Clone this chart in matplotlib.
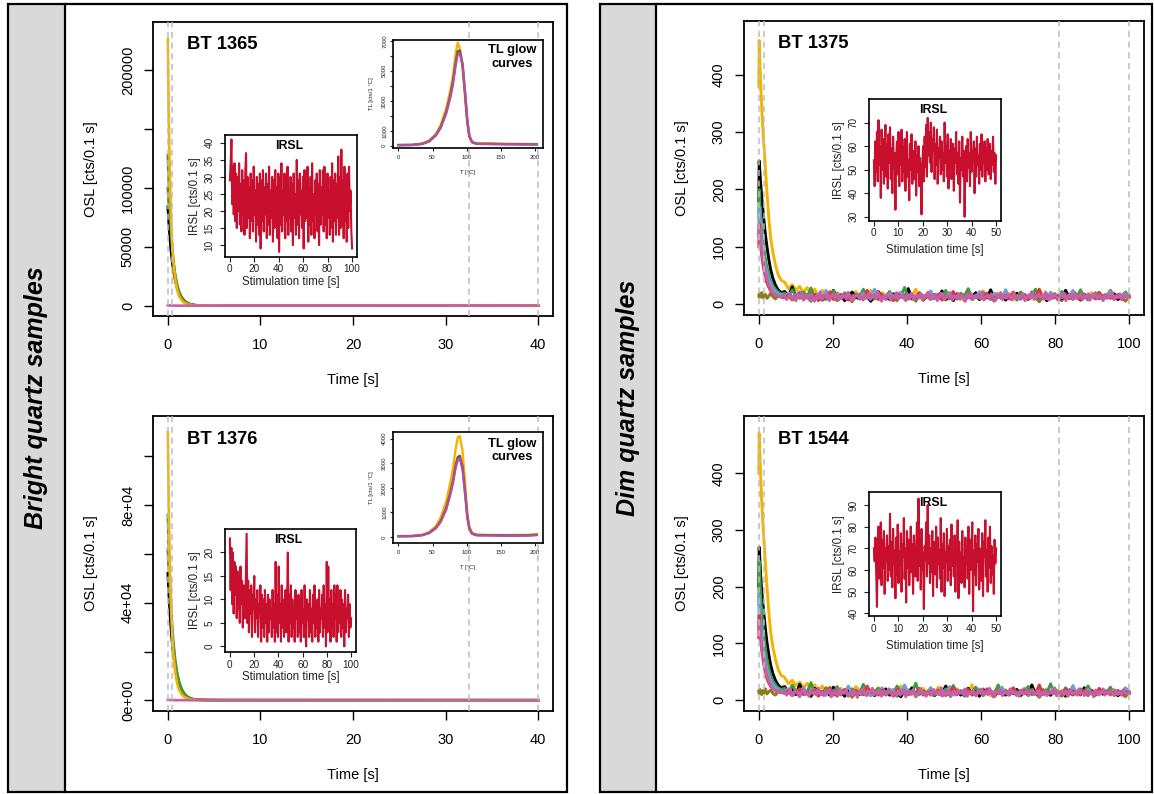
import numpy as np
import matplotlib as mpl
import matplotlib.pyplot as plt
from matplotlib.patches import Rectangle
from matplotlib.lines import Line2D

mpl.rcParams.update({
    "font.family": "Liberation Sans",
    "font.size": 10.5,
    "axes.linewidth": 1.3,
})

W, H = 1154, 794

# ---------------------------------------------------------------------------
# data
# ---------------------------------------------------------------------------
# bright samples, OSL decay (cts / 0.1 s)
t_bright = [0.0, 0.1, 0.2, 0.3, 0.4, 0.5, 0.6, 0.8, 1.0, 1.2, 1.5, 1.8, 2.2, 2.6, 3.0, 4.0, 6.0, 40.0]

bt1365_orange = [226000, 160000, 118000, 88000, 65000, 49000, 37000, 22000, 13500, 8500, 4500, 2400, 1100, 550, 300, 120, 60, 40]
bt1365_green = [128000, 104000, 85000, 70000, 57000, 47000, 39000, 26000, 17500, 11800, 6500, 3600, 1700, 800, 400, 150, 70, 45]
bt1365_olive = [100000, 84000, 71000, 60000, 50000, 42000, 35500, 25000, 17500, 12300, 7200, 4200, 2000, 950, 450, 160, 70, 45]
bt1365_black = [84000, 70000, 59000, 50000, 42000, 35500, 30000, 21500, 15200, 10800, 6400, 3700, 1800, 850, 420, 150, 65, 40]
bt1365_magenta = [300, 260, 220, 190, 160, 140, 120, 100, 90, 80, 70, 60, 55, 50, 48, 45, 42, 40]

bt1376_orange = [110000, 80000, 59000, 44000, 33000, 25000, 19000, 11500, 7000, 4400, 2400, 1300, 600, 300, 160, 70, 35, 20]
bt1376_green = [76000, 62000, 51000, 42000, 35000, 29000, 24000, 16500, 11300, 7800, 4400, 2500, 1200, 560, 280, 100, 45, 25]
bt1376_olive = [62000, 52000, 44000, 37000, 31000, 26000, 22000, 15500, 11000, 7700, 4500, 2600, 1250, 600, 290, 100, 45, 25]
bt1376_black = [52000, 44000, 37000, 31500, 26500, 22500, 19000, 13500, 9600, 6800, 4000, 2300, 1100, 530, 260, 95, 40, 22]
bt1376_magenta = [150, 130, 110, 95, 85, 75, 65, 55, 50, 45, 40, 36, 32, 30, 28, 25, 22, 20]

# dim samples: decay head (t_dim_head) + noisy tail from 7 s to 100 s
t_dim_head = [0.0, 0.1, 0.3, 0.5, 0.8, 1.1, 1.4, 1.8, 2.2, 2.7, 3.2, 3.8, 4.5, 5.2, 6.0]

bt1375_orange = [380, 460, 420, 385, 340, 305, 275, 235, 195, 150, 115, 90, 68, 52, 42]
bt1375_orange_tail = [38, 27, 34, 24, 31, 20, 29, 18, 26, 15, 24, 17, 22, 13, 20, 16, 11, 19, 14, 22,
                      10, 17, 13, 24, 9, 16, 20, 12, 18, 8, 15, 21, 11, 17, 14, 26, 10, 13, 19, 12,
                      16, 9, 22, 14, 11, 18, 13, 8, 17, 20, 12, 15, 10, 23, 14, 9, 16, 19, 11, 13,
                      18, 8, 15, 21, 12, 14, 10, 17, 25, 11, 13, 9, 19, 15, 12, 22, 10, 16, 14, 8,
                      18, 13, 20, 11, 15, 9, 17, 24, 12, 14, 10, 19, 16]
bt1375_black = [180, 250, 230, 210, 185, 165, 145, 120, 100, 78, 60, 45, 33, 25, 20]
bt1375_black_tail = [22, 14, 30, 12, 18, 9, 16, 20, 11, 15, 7, 19, 13, 24, 10, 16, 6, 14, 21, 12,
                     9, 17, 13, 5, 15, 22, 11, 14, 8, 18, 12, 16, 10, 27, 9, 13, 19, 7, 15, 11,
                     17, 12, 23, 9, 14, 6, 18, 13, 10, 16, 12, 20, 8, 15, 11, 25, 9, 13, 17, 7,
                     14, 12, 19, 10, 16, 8, 21, 13, 11, 15, 6, 18, 12, 14, 9, 24, 11, 16, 13, 7,
                     17, 10, 15, 12, 20, 9, 14, 11, 18, 8, 13, 16, 12]
bt1375_green = [150, 200, 175, 150, 125, 110, 95, 78, 64, 50, 40, 32, 26, 21, 18]
bt1375_green_tail = [19, 12, 25, 14, 10, 21, 13, 28, 11, 16, 9, 18, 14, 23, 10, 15, 12, 20, 8, 17,
                     13, 26, 11, 15, 9, 19, 14, 12, 22, 10, 16, 13, 29, 11, 14, 8, 18, 15, 12, 21,
                     10, 17, 13, 24, 9, 15, 11, 19, 14, 27, 12, 16, 10, 20, 13, 8, 18, 15, 11, 23,
                     12, 17, 9, 21, 14, 10, 16, 26, 12, 15, 11, 19, 13, 9, 22, 14, 10, 18, 12, 25,
                     11, 16, 13, 20, 9, 15, 12, 24, 10, 17, 14, 21, 13]
bt1375_blue = [120, 170, 150, 130, 110, 95, 80, 66, 54, 43, 35, 28, 22, 18, 16]
bt1375_blue_tail = [14, 19, 10, 16, 22, 11, 13, 8, 18, 15, 12, 24, 9, 14, 17, 11, 20, 13, 7, 16,
                    12, 19, 10, 15, 26, 11, 13, 9, 18, 14, 12, 21, 8, 16, 13, 10, 19, 15, 11, 23,
                    9, 14, 17, 12, 20, 10, 15, 13, 8, 18, 14, 11, 22, 12, 16, 9, 19, 13, 10, 25,
                    11, 15, 14, 8, 17, 12, 20, 10, 16, 13, 9, 21, 14, 11, 18, 12, 15, 24, 10, 13,
                    17, 9, 16, 12, 19, 11, 14, 22, 10, 15, 13, 18, 12]
bt1375_red = [100, 140, 120, 100, 84, 70, 58, 46, 37, 29, 23, 19, 16, 14, 13]
bt1375_red_tail = [12, 16, 8, 14, 19, 9, 13, 11, 17, 6, 15, 12, 21, 8, 13, 10, 18, 7, 14, 16,
                   11, 9, 24, 12, 15, 8, 17, 10, 13, 6, 19, 12, 14, 9, 16, 11, 20, 8, 13, 15,
                   10, 17, 7, 14, 12, 22, 9, 15, 11, 18, 8, 13, 16, 10, 19, 12, 7, 15, 11, 14,
                   9, 21, 13, 10, 17, 8, 15, 12, 26, 9, 14, 11, 16, 7, 13, 18, 10, 15, 12, 8,
                   17, 11, 14, 9, 20, 12, 15, 10, 13, 16, 8, 14, 12]
bt1375_olive = [14, 18, 12, 16, 20, 11, 15, 17, 10, 14, 19, 13, 9, 15, 12]
bt1375_olive_tail = [11, 15, 7, 13, 17, 9, 12, 5, 14, 18, 10, 8, 15, 12, 6, 16, 11, 13, 4, 14,
                     17, 9, 12, 7, 15, 10, 19, 8, 13, 11, 6, 16, 12, 9, 14, 5, 17, 10, 13, 8,
                     15, 11, 18, 7, 12, 14, 9, 16, 6, 13, 10, 15, 8, 19, 11, 12, 5, 14, 9, 17,
                     10, 13, 7, 16, 12, 8, 15, 11, 4, 14, 18, 9, 13, 10, 6, 16, 12, 8, 15, 11,
                     14, 7, 17, 10, 13, 9, 12, 16, 8, 14, 11, 5, 13]
bt1375_magenta = [120, 130, 115, 105, 92, 80, 68, 55, 44, 34, 26, 20, 16, 14, 13]
bt1375_magenta_tail = [15, 8, 13, 19, 9, 14, 6, 17, 11, 20, 7, 13, 16, 9, 18, 12, 5, 14, 10, 21,
                       8, 15, 12, 18, 6, 13, 17, 10, 19, 7, 14, 11, 16, 9, 20, 12, 6, 15, 13, 18,
                       9, 14, 7, 17, 11, 19, 8, 13, 16, 10, 22, 12, 5, 15, 9, 18, 13, 7, 16, 11,
                       20, 9, 14, 12, 17, 6, 15, 10, 19, 8, 13, 16, 11, 18, 7, 14, 12, 21, 9, 15,
                       10, 17, 6, 13, 19, 11, 8, 16, 12, 20, 7, 14, 10, 18, 9, 15, 13, 5, 17, 11,
                       19, 8, 14, 12, 16, 10, 21, 7, 13, 15, 9, 18, 11, 6, 16, 12, 20, 8, 14, 10,
                       17, 13, 7, 19, 11, 15, 9, 14, 18, 6, 12, 16, 10, 20, 8, 13, 17, 11, 15, 9,
                       21, 12, 7, 16, 10, 18, 13, 8, 15, 11, 19, 6, 14, 12, 17, 9, 20, 10, 13, 16,
                       8, 15, 11, 18, 7, 14, 12, 19, 9, 16, 13, 6, 17, 10, 15, 12, 20, 8, 14, 11,
                       18, 9, 13, 16, 10, 14]

bt1544_orange = [400, 470, 430, 395, 350, 312, 280, 240, 200, 155, 120, 94, 72, 55, 44]
bt1544_orange_tail = [40, 29, 35, 26, 32, 22, 30, 19, 27, 17, 25, 15, 23, 18, 12, 21, 14, 19, 11, 24,
                      16, 13, 20, 10, 17, 22, 12, 15, 9, 19, 14, 25, 11, 16, 13, 8, 18, 21, 12, 15,
                      10, 23, 14, 17, 9, 13, 20, 11, 16, 12, 27, 10, 14, 18, 13, 8, 16, 22, 11, 15,
                      12, 19, 9, 17, 14, 24, 10, 13, 16, 11, 20, 8, 15, 18, 12, 14, 9, 21, 13, 16,
                      10, 25, 12, 15, 11, 18, 14, 9, 19, 13, 16, 22, 14]
bt1544_black = [200, 270, 245, 220, 192, 170, 150, 124, 102, 80, 62, 47, 35, 27, 22]
bt1544_black_tail = [24, 13, 19, 10, 28, 12, 16, 8, 21, 14, 11, 17, 9, 23, 13, 15, 7, 19, 12, 16,
                     10, 26, 11, 14, 8, 18, 13, 20, 9, 15, 12, 6, 17, 14, 22, 10, 13, 16, 11, 19,
                     8, 15, 12, 25, 10, 14, 17, 9, 13, 21, 11, 16, 7, 18, 12, 14, 10, 23, 13, 9,
                     16, 12, 19, 8, 15, 11, 27, 10, 14, 13, 17, 9, 20, 12, 15, 7, 18, 11, 14, 10,
                     22, 13, 16, 9, 19, 12, 14, 11, 17, 8, 15, 13, 12]
bt1544_green = [170, 245, 215, 185, 155, 132, 112, 90, 72, 55, 43, 34, 27, 22, 19]
bt1544_green_tail = [21, 13, 27, 15, 11, 19, 14, 31, 12, 17, 10, 22, 15, 13, 24, 11, 16, 9, 20, 14,
                     12, 28, 10, 17, 13, 21, 9, 15, 19, 12, 25, 14, 11, 18, 13, 30, 10, 16, 12, 22,
                     9, 17, 14, 20, 11, 26, 13, 15, 10, 19, 12, 23, 14, 8, 18, 16, 11, 27, 13, 15,
                     9, 21, 12, 17, 14, 24, 10, 16, 13, 19, 11, 29, 12, 15, 9, 22, 14, 17, 10, 20,
                     13, 25, 11, 16, 12, 18, 14, 23, 10, 17, 13, 21, 15]
bt1544_blue = [130, 185, 160, 138, 116, 98, 83, 68, 55, 44, 35, 28, 23, 19, 16]
bt1544_blue_tail = [15, 20, 11, 17, 13, 23, 10, 16, 19, 12, 14, 9, 21, 15, 11, 18, 13, 25, 10, 16,
                    12, 20, 14, 8, 17, 13, 22, 11, 15, 19, 10, 14, 27, 12, 16, 9, 18, 13, 11, 21,
                    14, 10, 17, 12, 24, 9, 15, 13, 19, 11, 16, 8, 20, 14, 12, 18, 10, 15, 23, 13,
                    11, 17, 9, 14, 21, 12, 16, 10, 19, 13, 8, 15, 22, 11, 14, 17, 12, 26, 10, 15,
                    13, 19, 11, 16, 9, 20, 14, 12, 18, 10, 15, 21, 13]
bt1544_red = [110, 150, 128, 107, 88, 73, 60, 48, 38, 30, 24, 20, 17, 15, 14]
bt1544_red_tail = [13, 17, 9, 15, 20, 10, 14, 12, 18, 7, 16, 13, 22, 9, 14, 11, 19, 8, 15, 17,
                   12, 10, 25, 13, 16, 9, 18, 11, 14, 7, 20, 13, 15, 10, 17, 12, 21, 9, 14, 16,
                   11, 18, 8, 15, 13, 23, 10, 16, 12, 19, 9, 14, 17, 11, 20, 13, 8, 16, 12, 15,
                   10, 22, 14, 11, 18, 9, 16, 13, 27, 10, 15, 12, 17, 8, 14, 19, 11, 16, 13, 9,
                   18, 12, 15, 10, 21, 13, 16, 11, 14, 17, 9, 15, 13]
bt1544_olive = [16, 12, 19, 14, 10, 17, 13, 20, 11, 15, 18, 12, 9, 16, 14]
bt1544_olive_tail = [12, 16, 8, 14, 18, 10, 13, 6, 15, 19, 11, 9, 16, 13, 7, 17, 12, 14, 5, 15,
                     18, 10, 13, 8, 16, 11, 20, 9, 14, 12, 7, 17, 13, 10, 15, 6, 18, 11, 14, 9,
                     16, 12, 19, 8, 13, 15, 10, 17, 7, 14, 11, 16, 9, 20, 12, 13, 6, 15, 10, 18,
                     11, 14, 8, 17, 13, 9, 16, 12, 5, 15, 19, 10, 14, 11, 7, 17, 13, 9, 16, 12,
                     15, 8, 18, 11, 14, 10, 13, 17, 9, 15, 12, 6, 14]
bt1544_magenta = [125, 140, 122, 108, 94, 81, 68, 55, 44, 34, 26, 20, 16, 14, 13]
bt1544_magenta_tail = [16, 9, 14, 20, 8, 13, 17, 11, 6, 15, 19, 10, 13, 7, 18, 12, 15, 9, 21, 11,
                       14, 8, 17, 12, 19, 6, 13, 16, 10, 20, 9, 15, 12, 18, 7, 14, 11, 17, 13, 5,
                       16, 10, 19, 12, 8, 15, 13, 21, 9, 14, 11, 18, 7, 16, 12, 10, 20, 13, 8, 15,
                       11, 17, 9, 14, 19, 6, 13, 16, 10, 18, 12, 8, 15, 20, 11, 13, 7, 17, 14, 9,
                       19, 12, 15, 10, 22, 8, 14, 11, 17, 6, 13, 16, 9, 18, 12, 15, 10, 20, 7, 14,
                       12, 17, 11, 8, 16, 13, 19, 9, 15, 10, 21, 12, 6, 14, 17, 11, 18, 8, 13, 15,
                       9, 20, 12, 16, 10, 14, 7, 18, 11, 13, 17, 8, 15, 19, 10, 12, 16, 6, 14, 11,
                       18, 9, 13, 15, 11, 21, 8, 14, 12, 17, 10, 16, 7, 19, 13, 11, 15, 9, 20, 12,
                       14, 8, 17, 11, 16, 13, 6, 18, 10, 15, 12, 19, 9, 14, 11, 17, 13, 8, 16, 12,
                       15, 10, 18, 13, 11, 14]

# IRSL insets (cts / 0.1 s)
irsl_1365 = [29, 34, 41, 22, 33, 19, 34, 17, 31, 15, 30, 20, 34, 16, 28, 14, 32, 19, 29, 13,
             31, 37, 15, 30, 18, 27, 12, 31, 17, 29, 14, 33, 19, 26, 11, 30, 16, 28, 13, 31,
             9, 29, 17, 32, 14, 27, 19, 31, 12, 28, 16, 33, 13, 26, 18, 30, 11, 29, 15, 32,
             17, 27, 12, 31, 8, 30, 16, 34, 14, 26, 19, 31, 12, 29, 17, 33, 13, 27, 18, 30,
             14, 28, 10, 31, 18, 25, 13, 35, 16, 29, 12, 31, 19, 26, 15, 30, 9, 32, 17, 28,
             18, 33, 11, 27, 16, 30, 13, 34, 17, 25, 12, 29, 19, 31, 14, 28, 10, 32, 16, 27,
             19, 32, 14, 33, 16, 28, 12, 31, 18, 26, 13, 30, 15, 34, 11, 29, 17, 31, 13, 28,
             18, 36, 13, 30, 15, 38, 16, 29, 12, 33, 17, 27, 11, 31, 15, 33, 20, 26, 14, 9]
irsl_1376 = [23, 12, 21, 9, 20, 7, 18, 11, 17, 6, 16, 8, 15, 5, 17, 9, 14, 4, 13, 10,
             6, 15, 24, 5, 14, 3, 12, 7, 13, 2, 11, 8, 15, 3, 10, 6, 12, 2, 9, 7,
             13, 1, 11, 4, 10, 2, 12, 5, 9, 1, 11, 3, 10, 6, 8, 2, 12, 4, 9, 1,
             18, 3, 11, 2, 17, 5, 9, 1, 13, 4, 10, 2, 8, 12, 3, 9, 20, 1, 11, 5,
             13, 2, 10, 4, 8, 1, 12, 6, 9, 2, 11, 3, 10, 1, 12, 5, 8, 2, 13, 4,
             0, 10, 6, 9, 2, 12, 3, 8, 1, 11, 5, 13, 2, 9, 4, 10, 1, 12, 3, 8,
             6, 11, 2, 13, 4, 9, 0, 18, 3, 17, 5, 10, 1, 12, 4, 9, 2, 13, 6, 11,
             1, 13, 3, 8, 5, 12, 2, 10, 4, 9, 0, 12, 3, 8, 6, 11, 2, 9, 4, 6]
irsl_1375 = [54, 43, 62, 49, 66, 45, 71, 52, 60, 38, 67, 50, 63, 44, 58, 69, 47, 61, 42, 65,
             53, 68, 46, 59, 40, 64, 51, 57, 33, 55, 62, 48, 66, 43, 58, 52, 67, 45, 60, 49,
             63, 41, 57, 66, 47, 54, 37, 61, 50, 65, 44, 58, 52, 46, 62, 39, 56, 49, 60, 43,
             55, 48, 31, 52, 60, 45, 64, 51, 69, 47, 72, 56, 66, 53, 70, 49, 63, 58, 68, 46,
             61, 52, 67, 44, 59, 55, 64, 48, 62, 50, 57, 45, 70, 53, 60, 47, 65, 42, 58, 51,
             63, 46, 56, 61, 41, 59, 53, 66, 48, 57, 44, 62, 36, 55, 50, 64, 47, 58, 30, 52,
             60, 45, 63, 51, 57, 43, 66, 49, 58, 54, 62, 40, 59, 47, 64, 52, 56, 44, 61, 50,
             65, 47, 57, 53, 62, 45, 59, 50, 63, 48, 55, 61, 46, 58, 52, 64, 49, 57, 44, 56]
irsl_1544 = [70, 64, 75, 58, 43, 72, 80, 56, 68, 82, 53, 74, 61, 78, 49, 70, 65, 76, 55, 71,
             60, 86, 57, 73, 52, 79, 63, 69, 47, 75, 58, 81, 54, 68, 62, 77, 50, 72, 66, 84,
             56, 70, 45, 78, 61, 74, 53, 67, 80, 59, 72, 49, 76, 64, 57, 69, 82, 55, 93, 62,
             74, 51, 79, 60, 68, 42, 71, 65, 82, 57, 90, 63, 76, 54, 70, 59, 78, 48, 73, 66,
             58, 80, 52, 75, 63, 69, 56, 84, 50, 72, 61, 77, 48, 68, 64, 79, 55, 71, 60, 74,
             53, 81, 62, 67, 57, 76, 50, 70, 65, 83, 47, 73, 59, 68, 54, 78, 61, 66, 52, 75,
             63, 71, 56, 80, 49, 74, 60, 67, 82, 41, 69, 58, 76, 53, 72, 64, 79, 51, 70, 62,
             55, 77, 48, 73, 66, 83, 57, 69, 50, 75, 61, 80, 54, 71, 58, 67, 49, 74, 63, 70]

# TL glow curves (cts / 1 degC)
t_glow = [0, 20, 35, 45, 55, 62, 70, 76, 80, 84, 87, 90, 94, 98, 101, 104, 108, 115, 130, 160, 190, 203]
glow1365_orange = [50, 60, 150, 350, 800, 1400, 2500, 3700, 4700, 6200, 6870, 6500, 5200, 3000, 1500, 600, 250, 150, 160, 130, 120, 110]
glow1365_dark = [45, 55, 130, 300, 720, 1250, 2250, 3350, 4300, 5600, 6300, 6350, 5450, 3350, 1650, 620, 230, 130, 125, 105, 95, 95]
glow1365_magenta = [40, 50, 120, 290, 690, 1200, 2150, 3200, 4100, 5400, 6100, 6200, 5400, 3400, 1700, 650, 240, 120, 120, 100, 90, 90]
glow1376_orange = [40, 45, 90, 200, 450, 800, 1450, 2200, 2800, 3600, 4050, 4100, 3500, 2100, 1000, 420, 170, 100, 90, 80, 90, 120]
glow1376_dark = [35, 40, 80, 170, 380, 650, 1180, 1800, 2300, 2950, 3250, 3300, 2850, 1750, 830, 340, 140, 80, 75, 65, 70, 90]
glow1376_magenta = [30, 35, 75, 160, 360, 620, 1120, 1720, 2200, 2830, 3130, 3180, 2750, 1680, 800, 320, 130, 70, 65, 55, 60, 80]

ORANGE = "#F5B301"
BLACK = "#000000"
GREEN = "#3E9B3E"
BLUE = "#6F9FD8"
RED = "#E0353A"
OLIVE = "#8E7B1C"
MAGENTA = "#C75FA8"
IRSL_RED = "#C8102E"
GLOW_DARK = "#6B5B3A"
GLOW_MAG = "#B04FA0"
DASH = "#BDBDBD"

fig = plt.figure(figsize=(W / 100, H / 100), dpi=100)


def px_axes(l, t, r, b):
    return fig.add_axes([l / W, 1 - b / H, (r - l) / W, (b - t) / H])


def outer_box(l, t, r, b, strip_r, text):
    fig.add_artist(Rectangle((l / W, 1 - b / H), (strip_r - l) / W, (b - t) / H,
                             transform=fig.transFigure, facecolor="#D9D9D9",
                             edgecolor="none", zorder=-1))
    fig.add_artist(Rectangle((l / W, 1 - b / H), (r - l) / W, (b - t) / H,
                             transform=fig.transFigure, fill=False,
                             edgecolor="black", lw=1.6))
    fig.add_artist(Line2D([strip_r / W] * 2, [1 - b / H, 1 - t / H],
                          transform=fig.transFigure, color="black", lw=1.6))
    fig.text((l + strip_r) / 2 / W, 1 - (t + b) / 2 / H, text, rotation=90,
             ha="center", va="center", fontsize=18, fontweight="bold", style="italic")


def main_panel(box, xlim, ylim, xticks, yticks, ylabels, vlines, title):
    ax = px_axes(*box)
    ax.set_xlim(xlim)
    ax.set_ylim(ylim)
    for v in vlines:
        ax.axvline(v, color=DASH, lw=1.1, ls=(0, (4, 3)), zorder=4)
    ax.set_xticks(xticks)
    ax.set_yticks(yticks)
    ax.set_yticklabels(ylabels)
    ax.tick_params(direction="out", length=6.5, width=1.0, labelsize=10.5)
    ax.tick_params(axis="x", pad=9.4)
    ax.tick_params(axis="y", pad=6.5, labelrotation=90)
    for lab in ax.get_yticklabels():
        lab.set_va("center")
    ax.set_xlabel("Time [s]", fontsize=10.5)
    ax.xaxis.set_label_coords(0.5, -0.194)
    ax.set_ylabel("OSL [cts/0.1 s]", fontsize=10.5)
    ax.yaxis.set_label_coords(-0.1375, 0.5)
    ax.text(0.085, 0.922, title, transform=ax.transAxes, ha="left", va="center",
            fontsize=13.2, fontweight="bold")
    return ax


def inset(box, xlim, ylim, xticks, yticks, ylabels, fs_tick, fs_lab, tlen,
          xpad, ypad, xlabel, ylabel, xlab_y, ylab_x):
    ax = px_axes(*box)
    ax.set_xlim(xlim)
    ax.set_ylim(ylim)
    ax.set_xticks(xticks)
    ax.set_yticks(yticks)
    ax.set_yticklabels(ylabels)
    for s in ax.spines.values():
        s.set_linewidth(1.2)
    ax.tick_params(direction="out", length=tlen, width=0.8, labelsize=fs_tick,
                   colors="#222222")
    ax.tick_params(axis="x", pad=xpad)
    ax.tick_params(axis="y", pad=ypad, labelrotation=90)
    for lab in ax.get_yticklabels():
        lab.set_va("center")
    ax.set_xlabel(xlabel, fontsize=fs_lab, color="#222222")
    ax.xaxis.set_label_coords(0.5, xlab_y)
    ax.set_ylabel(ylabel, fontsize=fs_lab, color="#222222")
    ax.yaxis.set_label_coords(ylab_x, 0.5)
    return ax


# frames with grey side strips
outer_box(8, 4, 567, 792, 65, "Bright quartz samples")
outer_box(600, 4, 1152, 792, 656, "Dim quartz samples")

# ---------------------------------------------------------------------------
# bright panels
# ---------------------------------------------------------------------------
bright = [
    ((153, 22, 553, 316), (-8700, 240700), [0, 50000, 100000, 150000, 200000],
     ["0", "50000", "100000", "", "200000"], "BT 1365",
     [(bt1365_olive, OLIVE), (bt1365_black, BLACK), (bt1365_green, GREEN),
      (bt1365_orange, ORANGE), (bt1365_magenta, MAGENTA)]),
    ((153, 416, 553, 711), (-4400, 116600), [0, 20000, 40000, 60000, 80000, 100000],
     ["0e+00", "", "4e+04", "", "8e+04", ""], "BT 1376",
     [(bt1376_olive, OLIVE), (bt1376_black, BLACK), (bt1376_green, GREEN),
      (bt1376_orange, ORANGE), (bt1376_magenta, MAGENTA)]),
]
for box, ylim, yt, yl, title, curves in bright:
    ax = main_panel(box, (-1.6, 41.6), ylim, [0, 10, 20, 30, 40], yt, yl,
                    [0, 0.5, 32.5, 40], title)
    for vals, c in curves:
        ax.plot(t_bright, vals, color=c, lw=1.9, zorder=2)

# ---------------------------------------------------------------------------
# dim panels
# ---------------------------------------------------------------------------
dim = [
    ((744, 21, 1144, 315), (-19, 494), "BT 1375",
     [(bt1375_olive, bt1375_olive_tail, OLIVE), (bt1375_orange, bt1375_orange_tail, ORANGE),
      (bt1375_black, bt1375_black_tail, BLACK), (bt1375_green, bt1375_green_tail, GREEN),
      (bt1375_blue, bt1375_blue_tail, BLUE), (bt1375_red, bt1375_red_tail, RED),
      (bt1375_magenta, bt1375_magenta_tail, MAGENTA)]),
    ((744, 416, 1144, 711), (-19, 501), "BT 1544",
     [(bt1544_olive, bt1544_olive_tail, OLIVE), (bt1544_orange, bt1544_orange_tail, ORANGE),
      (bt1544_black, bt1544_black_tail, BLACK), (bt1544_green, bt1544_green_tail, GREEN),
      (bt1544_blue, bt1544_blue_tail, BLUE), (bt1544_red, bt1544_red_tail, RED),
      (bt1544_magenta, bt1544_magenta_tail, MAGENTA)]),
]
for box, ylim, title, curves in dim:
    ax = main_panel(box, (-4, 104), ylim, [0, 20, 40, 60, 80, 100],
                    [0, 100, 200, 300, 400], ["0", "100", "200", "300", "400"],
                    [0, 1.5, 81, 100], title)
    for head, tail, c in curves:
        x = np.concatenate([t_dim_head, np.linspace(7, 100, len(tail))])
        y = np.concatenate([head, tail])
        ax.plot(x, y, color=c, lw=2.1, zorder=2)

# ---------------------------------------------------------------------------
# IRSL insets
# ---------------------------------------------------------------------------
irsl = [
    ((225, 135, 357, 257), (-4, 104), (6.5, 42.3), [0, 20, 40, 60, 80, 100],
     [10, 15, 20, 25, 30, 35, 40], irsl_1365, 100, -0.156, -0.184),
    ((225, 529, 356, 652), (-4, 104), (-1.2, 25), [0, 20, 40, 60, 80, 100],
     [0, 5, 10, 15, 20], irsl_1376, 100, -0.156, -0.184),
    ((869, 99, 1001, 221), (-2, 52), (28.2, 80), [0, 10, 20, 30, 40, 50],
     [30, 40, 50, 60, 70], irsl_1375, 50, -0.19, -0.183),
    ((869, 492, 1001, 616), (-2, 52), (38.8, 96), [0, 10, 20, 30, 40, 50],
     [40, 50, 60, 70, 80, 90], irsl_1544, 50, -0.19, -0.183),
]
for box, xlim, ylim, xt, yt, vals, tmax, xly, ylx in irsl:
    ax = inset(box, xlim, ylim, xt, yt, [str(v) for v in yt], 7.2, 8.3, 3.6,
               1.8, 4.0, "Stimulation time [s]", "IRSL [cts/0.1 s]", xly, ylx)
    ax.plot(np.linspace(0, tmax, len(vals)), vals, color=IRSL_RED, lw=1.5)
    ax.text(0.485, 0.91, "IRSL", transform=ax.transAxes, ha="center", va="center",
            fontsize=8.8, fontweight="bold")

# ---------------------------------------------------------------------------
# TL glow insets
# ---------------------------------------------------------------------------
glow = [
    ((393, 40, 543, 148), (-150, 7050), list(range(0, 7001, 1000)),
     ["0", "1000", "", "3000", "", "5000", "", "7000"],
     [(glow1365_orange, ORANGE), (glow1365_dark, GLOW_DARK), (glow1365_magenta, GLOW_MAG)], 0.844),
    ((393, 432, 543, 543), (-242, 4267), [0, 1000, 2000, 3000, 4000],
     ["0", "1000", "2000", "3000", "4000"],
     [(glow1376_orange, ORANGE), (glow1376_dark, GLOW_DARK), (glow1376_magenta, GLOW_MAG)], 0.834),
]
for box, ylim, yt, yl, curves, ty in glow:
    ax = inset(box, (-8, 212), ylim, [0, 50, 100, 150, 200], yt, yl, 4.3, 4.3, 2.2,
               3.0, 2.0, "T [°C]", "TL [cts/1 °C]", -0.2, -0.125)
    for vals, c in curves:
        ax.plot(t_glow, vals, color=c, lw=1.7)
    ax.text(0.797, ty, "TL glow\ncurves", transform=ax.transAxes, ha="center",
            va="center", fontsize=9.3, fontweight="bold", linespacing=1.15)

fig.savefig("out.png", dpi=100)
